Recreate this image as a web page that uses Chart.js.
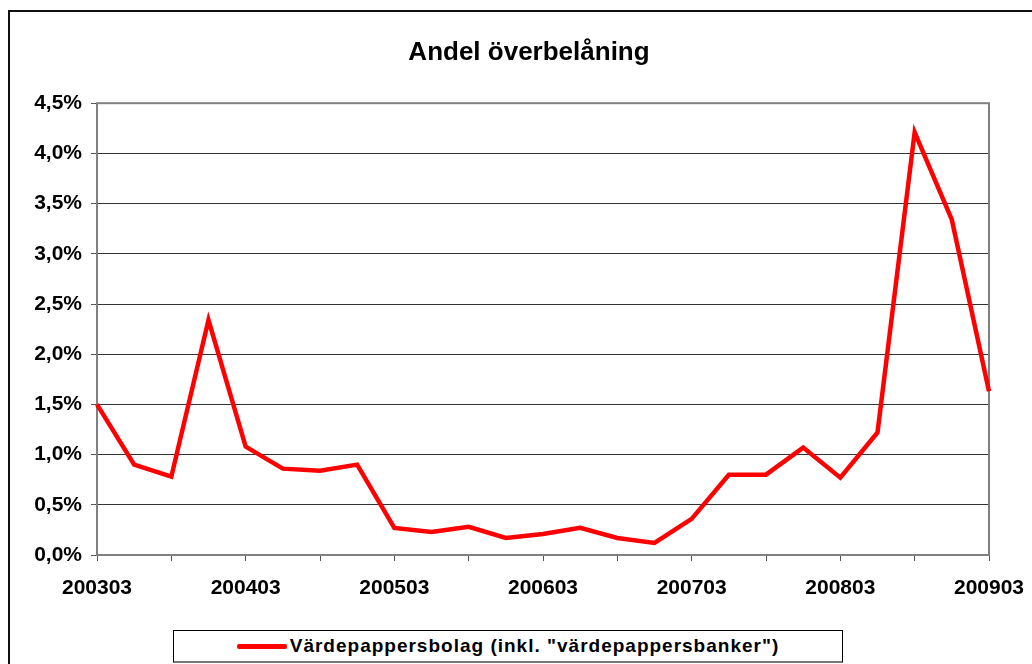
<!DOCTYPE html>
<html>
<head>
<meta charset="utf-8">
<script src="https://cdn.jsdelivr.net/npm/chart.js@4.4.1/dist/chart.umd.min.js"></script>
<style>
  html, body { margin: 0; padding: 0; background: #fff; overflow: hidden; }
  #wrap { position: relative; width: 1032px; height: 664px; }
  #frame {
    position: absolute; left: 8px; top: 10px; width: 1100px; height: 700px;
    border: 2px solid #111; box-sizing: border-box;
  }
  #c { position: absolute; left: 0; top: 0; }
  #legend {
    position: absolute; left: 173px; top: 630px; width: 670px; height: 33px;
    box-sizing: border-box; border: 1px solid #000; border-bottom: 2px solid #777;
    background: #fff; display: flex; align-items: center; justify-content: center;
    font: bold 19px "Liberation Sans", Arial, sans-serif; letter-spacing: 1px; color: #000;
  }
  #legend .swatch { display: inline-block; width: 50px; height: 5px; background: #ff0000; margin-right: 3px; border-radius: 2px; }
</style>
</head>
<body>
<div id="wrap">
  <div id="frame"></div>
  <canvas id="c" width="1032" height="664"></canvas>
  <div id="legend"><span class="swatch"></span><span id="legendText"></span></div>
</div>
<script>
  // Quarterly observations, March 2003 .. March 2009
  var QUARTERS = [
    "200303", "200306", "200309", "200312",
    "200403", "200406", "200409", "200412",
    "200503", "200506", "200509", "200512",
    "200603", "200606", "200609", "200612",
    "200703", "200706", "200709", "200712",
    "200803", "200806", "200809", "200812",
    "200903"
  ];
  // Andel överbelåning, percent
  var SHARE = [
    1.50, 0.90, 0.78, 2.34,
    1.08, 0.86, 0.84, 0.90,
    0.27, 0.23, 0.28, 0.17,
    0.21, 0.27, 0.17, 0.12,
    0.36, 0.80, 0.80, 1.07,
    0.77, 1.22, 4.21, 3.34,
    1.63
  ];
  var SERIES_NAME = 'Värdepappersbolag (inkl. "värdepappersbanker")';
  var TITLE = "Andel överbelåning";
  var Y_MAX = 4.5;
  var Y_STEP = 0.5;

  var FONT = "'Liberation Sans', Arial, sans-serif";
  document.getElementById("legendText").textContent = SERIES_NAME;

  // Grey box round the plot area (Excel-style plot border).
  var plotBorder = {
    id: "plotBorder",
    beforeDatasetsDraw: function (chart) {
      var a = chart.chartArea, ctx = chart.ctx;
      ctx.save();
      ctx.lineWidth = 2;
      ctx.strokeStyle = "#808080";
      ctx.strokeRect(a.left, a.top, a.right - a.left, a.bottom - a.top);
      ctx.restore();
    }
  };

  new Chart(document.getElementById("c"), {
    type: "line",
    data: {
      labels: QUARTERS,
      datasets: [{
        label: SERIES_NAME,
        data: SHARE,
        borderColor: "#ff0000",
        borderWidth: 4.5,
        pointRadius: 0,
        tension: 0,
        fill: false,
        clip: false
      }]
    },
    options: {
      responsive: false,
      animation: false,
      // left/right padding chosen so the title centres where the original's does
      layout: { padding: { left: 30, right: 4, top: 0, bottom: 0 } },
      plugins: {
        legend: { display: false },
        tooltip: { enabled: false },
        title: {
          display: true,
          text: TITLE,
          color: "#000",
          font: { family: FONT, size: 26, weight: "bold" },
          padding: { top: 37, bottom: 35 }
        }
      },
      scales: {
        x: {
          offset: false,
          grid: {
            drawOnChartArea: false,
            drawTicks: true,
            tickLength: 6,
            tickWidth: 1,
            tickColor: function (ctx) { return ctx.index % 2 === 0 ? "#555" : "rgba(0,0,0,0)"; }
          },
          border: { display: false },
          ticks: {
            autoSkip: false,
            maxRotation: 0,
            // tick padding also widens the side overflow, so push labels down with line height instead
            padding: 0,
            color: "#000",
            font: { family: FONT, size: 21, weight: "bold", lineHeight: "55px" },
            callback: function (v, i) { return i % 4 === 0 ? QUARTERS[i] : ""; }
          },
          afterFit: function (s) { s.height = 109; }
        },
        y: {
          min: 0,
          max: Y_MAX,
          grid: {
            color: "#333",
            lineWidth: 1,
            tickLength: 6,
            tickColor: "#555"
          },
          border: { display: false },
          ticks: {
            stepSize: Y_STEP,
            padding: 9,
            color: "#000",
            font: { family: FONT, size: 21, weight: "bold" },
            callback: function (v) { return v.toFixed(1).replace(".", ",") + "%"; }
          },
          afterFit: function (s) { s.width = 67; }
        },
        // empty spacer on the right so the plot ends at the original's edge
        spacer: {
          type: "linear",
          position: "right",
          display: true,
          grid: { display: false },
          border: { display: false },
          ticks: { display: false },
          afterFit: function (s) { s.width = 39; }
        }
      }
    },
    plugins: [plotBorder]
  });
</script>
</body>
</html>
